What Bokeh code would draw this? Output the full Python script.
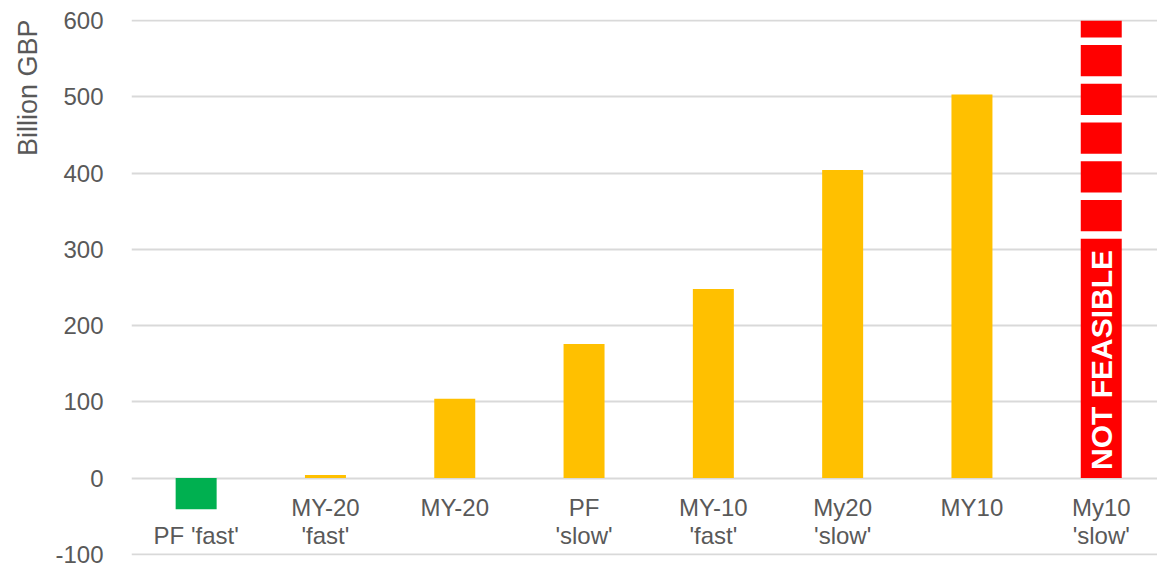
from bokeh.plotting import figure
from bokeh.models import Range1d, FixedTicker, Title, ColumnDataSource, LabelSet
from bokeh.core.properties import value
from bokeh.embed import file_html
from bokeh.resources import INLINE

# ---- data ----
label_line1 = ["", "MY-20", "MY-20", "PF", "MY-10", "My20", "MY10", "My10"]
label_line2 = ["PF 'fast'", "'fast'", "", "'slow'", "'fast'", "'slow'", "", "'slow'"]
values = [-41, 4, 104, 176, 248, 404, 503, 600]
feasible = [True, True, True, True, True, True, True, False]
y_ticks = [-100, 0, 100, 200, 300, 400, 500, 600]
y_tick_labels = ["-100", "0", "100", "200", "300", "400", "500", "600"]
y_title = "Billion GBP"
infeasible_text = "NOT FEASIBLE"

FONT = "Liberation Sans"
GREY = "#595959"

xs = list(range(len(values)))
colors = []
for v, f in zip(values, feasible):
    if not f:
        colors.append("#FF0000")
    elif v < 0:
        colors.append("#00B050")
    else:
        colors.append("#FFC000")

p = figure(width=1157, height=563, output_backend="svg", toolbar_location=None,
           x_range=Range1d(-0.5, 7.435), y_range=Range1d(-101.5, 601.5),
           min_border_left=131, min_border_right=0, min_border_top=19, min_border_bottom=8)
p.outline_line_color = None
p.background_fill_color = "white"
p.border_fill_color = "white"

# axes
p.xaxis.visible = False
p.xgrid.grid_line_color = None
p.yaxis.ticker = FixedTicker(ticks=y_ticks)
p.yaxis.major_label_overrides = {t: s for t, s in zip(y_ticks, y_tick_labels)}
p.yaxis.axis_line_color = None
p.yaxis.major_tick_line_color = None
p.yaxis.minor_tick_line_color = None
p.yaxis.major_label_standoff = 22
p.yaxis.major_label_text_font = FONT
p.yaxis.major_label_text_font_size = "24px"
p.yaxis.major_label_text_color = GREY
p.ygrid.ticker = FixedTicker(ticks=y_ticks)
p.ygrid.grid_line_color = "#d9d9d9"
p.ygrid.grid_line_width = 2

# axis title at the top-left
t = Title(text=y_title, align="right", text_font=FONT, text_font_size="27px",
          text_font_style="normal", text_color=GREY, standoff=19)
p.add_layout(t, "left")

# bars
src = ColumnDataSource(dict(x=xs, top=values, color=colors))
p.vbar(x="x", top="top", bottom=0, width=0.317, fill_color="color", line_color=None, source=src)

# white breaks in the infeasible bar
inf_x = [x for x, f in zip(xs, feasible) if not f]
for xi in inf_x:
    gap_centers = [319 + 50.8 * k for k in range(6)]
    p.rect(x=[xi] * len(gap_centers), y=gap_centers, width=0.34, height=9.8,
           fill_color="white", line_color=None)
    p.text(x=[xi], y=[155], text=[infeasible_text], angle=1.5708,
           text_font=value(FONT), text_font_size="30px", text_font_style="bold",
           text_color="white", text_align="center", text_baseline="middle")

# category labels under the zero line
lab_src = ColumnDataSource(dict(x=xs, y=[0] * len(xs), l1=label_line1, l2=label_line2))
for col, off in (("l1", -38), ("l2", -66)):
    ls = LabelSet(x="x", y="y", text=col, y_offset=off, source=lab_src,
                  text_align="center", text_baseline="alphabetic",
                  text_font=value(FONT), text_font_size="24px", text_color=GREY)
    p.add_layout(ls)

open("out.html", "w").write(file_html(p, INLINE))
